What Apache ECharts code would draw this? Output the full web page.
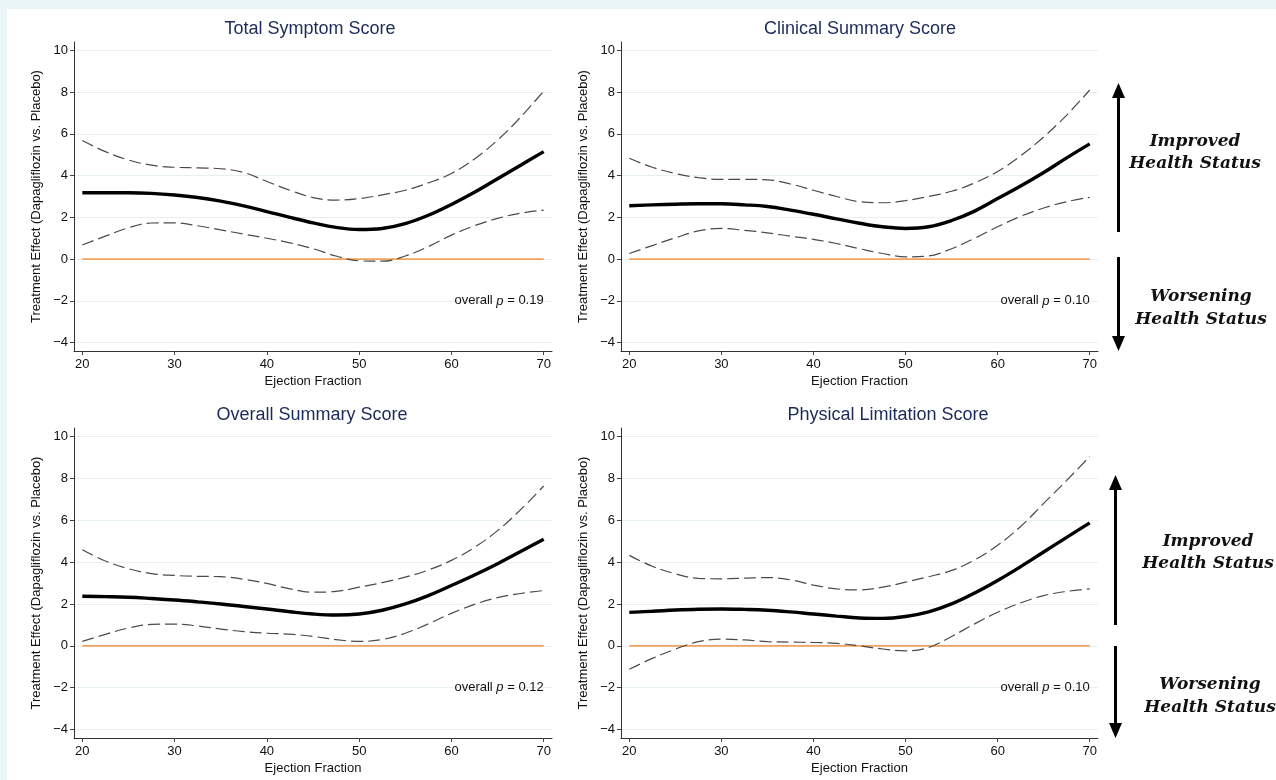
<!DOCTYPE html>
<html>
<head>
<meta charset="utf-8">
<script src="https://cdn.jsdelivr.net/npm/echarts@6/dist/echarts.min.js"></script>
<style>
html,body{margin:0;padding:0;background:#eaf5f8;}
#chart{width:1276px;height:780px;}
</style>
</head>
<body>
<div id="chart"></div>
<script>
// ---- data ----
const efValues = [20,22.5,25,27.5,30,32.5,35,37.5,40,42.5,45,47.5,50,52.5,55,57.5,60,62.5,65,67.5,70];

const tssMean  = [3.18,3.18,3.18,3.15,3.07,2.95,2.78,2.55,2.28,2.00,1.74,1.52,1.42,1.47,1.70,2.10,2.62,3.20,3.85,4.50,5.15];
const tssUpper = [5.68,5.15,4.75,4.50,4.40,4.37,4.33,4.15,3.72,3.30,2.95,2.83,2.90,3.08,3.30,3.65,4.10,4.80,5.70,6.80,8.05];
const tssLower = [0.68,1.10,1.50,1.73,1.74,1.60,1.40,1.20,1.00,0.78,0.50,0.15,-0.08,-0.10,0.15,0.60,1.15,1.60,1.95,2.20,2.35];

const cssMean  = [2.56,2.60,2.63,2.65,2.65,2.60,2.52,2.35,2.15,1.93,1.72,1.55,1.47,1.55,1.85,2.30,2.90,3.50,4.15,4.85,5.52];
const cssUpper = [4.83,4.40,4.10,3.90,3.82,3.82,3.80,3.60,3.30,3.00,2.75,2.70,2.80,3.00,3.25,3.65,4.20,4.95,5.85,6.90,8.10];
const cssLower = [0.27,0.65,1.02,1.35,1.47,1.38,1.26,1.10,0.95,0.75,0.50,0.27,0.11,0.15,0.50,1.00,1.55,2.05,2.45,2.75,2.96];

const ossMean  = [2.37,2.35,2.32,2.26,2.19,2.10,2.00,1.88,1.76,1.63,1.52,1.47,1.52,1.70,2.00,2.40,2.88,3.38,3.92,4.50,5.09];
const ossUpper = [4.59,4.05,3.68,3.45,3.36,3.32,3.30,3.18,2.98,2.72,2.56,2.60,2.80,3.02,3.28,3.62,4.08,4.70,5.50,6.50,7.63];
const ossLower = [0.21,0.55,0.85,1.02,1.04,0.95,0.80,0.68,0.60,0.56,0.45,0.30,0.21,0.30,0.60,1.05,1.55,1.98,2.30,2.50,2.64];

const plsMean  = [1.60,1.65,1.71,1.75,1.76,1.74,1.70,1.62,1.52,1.42,1.33,1.31,1.40,1.62,2.00,2.52,3.12,3.78,4.48,5.18,5.87];
const plsUpper = [4.32,3.80,3.44,3.22,3.20,3.23,3.26,3.15,2.90,2.72,2.67,2.80,3.04,3.30,3.60,4.10,4.80,5.70,6.80,7.90,9.04];
const plsLower = [-1.12,-0.60,-0.16,0.20,0.32,0.28,0.20,0.18,0.16,0.12,0.00,-0.15,-0.24,-0.08,0.45,1.05,1.60,2.05,2.40,2.60,2.72];

const panelTitles = ['Total Symptom Score','Clinical Summary Score','Overall Summary Score','Physical Limitation Score'];
const pValues = ['0.19','0.10','0.12','0.10'];
const xTicks = [20,30,40,50,60,70];
const yTicks = [-4,-2,0,2,4,6,8,10];
const zeroLine = [[20,0],[70,0]];
const xAxisTitle = 'Ejection Fraction';
const yAxisTitle = 'Treatment Effect (Dapagliflozin vs. Placebo)';
const improvedText = ['Improved','Health Status'];
const worseningText = ['Worsening','Health Status'];

// ---- layout ----
const panels = [
  {mean: tssMean, upper: tssUpper, lower: tssLower, grid:{left:74, top:42, width:478, height:309}, title:[310,29]},
  {mean: cssMean, upper: cssUpper, lower: cssLower, grid:{left:621, top:42, width:477, height:309}, title:[860,29]},
  {mean: ossMean, upper: ossUpper, lower: ossLower, grid:{left:74, top:428, width:478, height:310}, title:[312,415]},
  {mean: plsMean, upper: plsUpper, lower: plsLower, grid:{left:621, top:428, width:477, height:310}, title:[888,415]}
];

const sans = '"Liberation Sans", Arial, Helvetica, sans-serif';
const pair = (ys) => efValues.map((x, i) => [x, ys[i]]);
const fmtNum = (v) => v < 0 ? '\u2212' + Math.abs(v) : String(v);

const grids = [], xAxes = [], yAxes = [], series = [], graphics = [];

graphics.push({type:'rect', shape:{x:7, y:9, width:1269, height:771}, style:{fill:'#ffffff'}, z:-10, silent:true});

panels.forEach((p, i) => {
  grids.push(Object.assign({containLabel:false}, p.grid));
  xAxes.push({
    type:'value', gridIndex:i, min:19.1, max:70.9,
    axisLine:{show:true, onZero:false, lineStyle:{color:'#333', width:1}},
    axisTick:{show:true, length:4, customValues:xTicks, lineStyle:{color:'#444'}},
    axisLabel:{customValues:xTicks, fontSize:13, color:'#111', margin:7, fontFamily:sans},
    splitLine:{show:false},
    name:xAxisTitle, nameLocation:'middle', nameGap:24,
    nameTextStyle:{fontSize:13, color:'#111', fontFamily:sans}
  });
  yAxes.push({
    type:'value', gridIndex:i, min:-4.4, max:10.4,
    axisLine:{show:true, onZero:false, lineStyle:{color:'#333', width:1}},
    axisTick:{show:true, length:4, customValues:yTicks, lineStyle:{color:'#444'}},
    axisLabel:{customValues:yTicks, fontSize:13, color:'#111', margin:6, fontFamily:sans, formatter:fmtNum},
    splitLine:{show:true, lineStyle:{color:'#e6f0f4', width:1}},
    name:yAxisTitle, nameLocation:'middle', nameGap:31, nameRotate:90,
    nameTextStyle:{fontSize:13, color:'#111', fontFamily:sans}
  });
  series.push({
    type:'line', xAxisIndex:i, yAxisIndex:i, data:zeroLine, showSymbol:false, silent:true,
    lineStyle:{color:'#f2a35a', width:1.6}, z:2,
    markPoint:{
      symbol:'circle', symbolSize:0, silent:true,
      data:[{coord:[70,-2]}],
      label:{show:true, position:'left', distance:0, fontFamily:sans, color:'#111',
        formatter:'{a|overall }{i|p}{a| = ' + pValues[i] + '}',
        rich:{a:{fontSize:13, fontFamily:sans, color:'#111'}, i:{fontSize:13, fontStyle:'italic', fontFamily:sans, color:'#111'}}}
    }
  });
  series.push({type:'line', xAxisIndex:i, yAxisIndex:i, data:pair(p.upper), smooth:0.4, showSymbol:false, silent:true,
    lineStyle:{color:'#4a4a4a', width:1.2, type:[12,5]}, z:3});
  series.push({type:'line', xAxisIndex:i, yAxisIndex:i, data:pair(p.lower), smooth:0.4, showSymbol:false, silent:true,
    lineStyle:{color:'#4a4a4a', width:1.2, type:[12,5]}, z:3});
  series.push({type:'line', xAxisIndex:i, yAxisIndex:i, data:pair(p.mean), smooth:0.4, showSymbol:false, silent:true,
    lineStyle:{color:'#000', width:3.4}, z:4});
  graphics.push({type:'text', x:p.title[0], y:p.title[1], silent:true,
    style:{text:panelTitles[i], fontSize:18, fontFamily:sans, fill:'#1c2a5a', align:'center', verticalAlign:'middle'}});
});

// side arrows + labels
function addArrows(x, upTop, upBottom, downTop, downBottom, impPos, worPos) {
  const hw = 6.5, hh = 15;
  graphics.push({type:'line', shape:{x1:x, y1:upTop+hh-2, x2:x, y2:upBottom}, style:{stroke:'#000', lineWidth:3}, silent:true});
  graphics.push({type:'polygon', shape:{points:[[x,upTop],[x-hw,upTop+hh],[x+hw,upTop+hh]]}, style:{fill:'#000'}, silent:true});
  graphics.push({type:'line', shape:{x1:x, y1:downTop, x2:x, y2:downBottom-hh+2}, style:{stroke:'#000', lineWidth:3}, silent:true});
  graphics.push({type:'polygon', shape:{points:[[x,downBottom],[x-hw,downBottom-hh],[x+hw,downBottom-hh]]}, style:{fill:'#000'}, silent:true});
  const font = 'italic bold 17px "DejaVu Serif", serif';
  graphics.push({type:'text', x:impPos[0], y:impPos[1], silent:true, style:{text:improvedText[0], font:font, fill:'#111', align:'center', verticalAlign:'middle'}});
  graphics.push({type:'text', x:impPos[0], y:impPos[1]+22, silent:true, style:{text:improvedText[1], font:font, fill:'#111', align:'center', verticalAlign:'middle'}});
  graphics.push({type:'text', x:worPos[0], y:worPos[1], silent:true, style:{text:worseningText[0], font:font, fill:'#111', align:'center', verticalAlign:'middle'}});
  graphics.push({type:'text', x:worPos[0], y:worPos[1]+23, silent:true, style:{text:worseningText[1], font:font, fill:'#111', align:'center', verticalAlign:'middle'}});
}
addArrows(1118.5, 83, 232, 257, 351, [1195,142], [1201,297]);
addArrows(1115.5, 475, 625, 646, 738, [1208,542], [1210,685]);

const chart = echarts.init(document.getElementById('chart'), null, {renderer:'canvas'});
chart.setOption({
  animation:false,
  backgroundColor:'#eaf5f8',
  grid:grids, xAxis:xAxes, yAxis:yAxes, series:series,
  graphic:graphics
});
</script>
</body>
</html>
